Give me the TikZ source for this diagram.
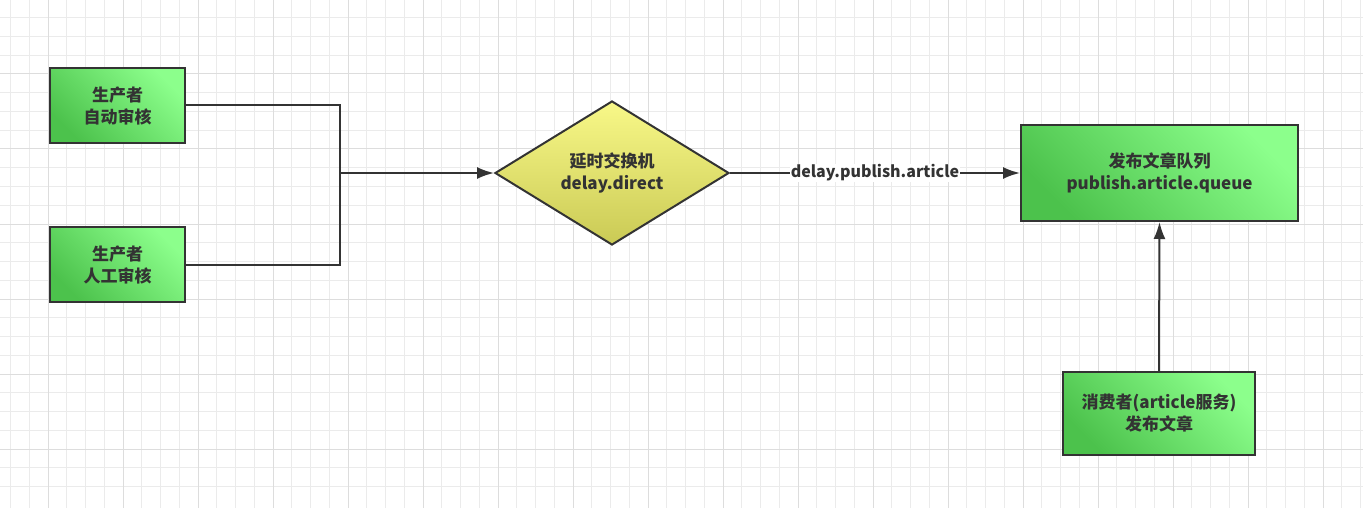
\documentclass[tikz,border=0pt]{standalone}
\usepackage{fontspec}
\setmainfont{Noto Sans CJK SC}
\usepackage{tikz}
\usetikzlibrary{arrows.meta,shapes.geometric}

\definecolor{boxlight}{HTML}{8CFF8C}
\definecolor{boxdark}{HTML}{4CC24C}
\definecolor{exlight}{HTML}{F8F888}
\definecolor{exdark}{HTML}{CACA55}
\definecolor{ink}{HTML}{333333}
\definecolor{gridminor}{HTML}{EBEBEB}
\definecolor{gridmajor}{HTML}{DDDDDD}

\begin{document}
\begin{tikzpicture}[x=1pt, y=-1pt,
  greenbox/.style={draw=ink, line width=2pt, rectangle, inner sep=0pt,
    top color=boxlight, bottom color=boxdark, shading angle=-45,
    text=ink, align=center, font=\bfseries\fontsize{17}{22}\selectfont},
  exchange/.style={draw=ink, line width=2pt, diamond, aspect=1.625, inner sep=0pt,
    top color=exlight, bottom color=exdark,
    text=ink, align=center, font=\bfseries\fontsize{17}{22}\selectfont},
  link/.style={draw=ink, line width=2pt},
  flow/.style={link, -{Latex[length=17pt,width=12pt]}}]

\useasboundingbox (0,0) rectangle (1363,508);
\fill[white] (0,0) rectangle (1363,508);

% grid
\foreach \i in {0,...,72} {
  \pgfmathsetmacro{\gx}{10.5+18.75*\i}
  \draw[gridminor, line width=1pt] (\gx,0) -- (\gx,508);
}
\foreach \j in {0,...,26} {
  \pgfmathsetmacro{\gy}{-1+18.75*\j}
  \draw[gridminor, line width=1pt] (0,\gy) -- (1363,\gy);
}
\foreach \i in {0,...,18} {
  \pgfmathsetmacro{\gx}{-27+75*\i}
  \draw[gridmajor, line width=1pt] (\gx,0) -- (\gx,508);
}
\foreach \j in {0,...,6} {
  \pgfmathsetmacro{\gy}{-1+75*\j}
  \draw[gridmajor, line width=1pt] (0,\gy) -- (1363,\gy);
}

\node[greenbox, minimum width=135pt, minimum height=75pt] at (117.5,105.5) (auto) {生产者\\自动审核};
\node[greenbox, minimum width=135pt, minimum height=75pt] at (117.5,264.5) (manual) {生产者\\人工审核};
\node[exchange, minimum width=234pt, minimum height=144pt] at (612,173) (delay) {延时交换机\\delay.direct};
\node[greenbox, minimum width=277pt, minimum height=96pt] at (1159.5,173) (queue) {发布文章队列\\publish.article.queue};
\node[greenbox, minimum width=192pt, minimum height=83pt] at (1159,413.5) (consumer) {消费者(article服务)\\发布文章};

\coordinate (join) at (340,173);

\path[link] (auto.east) -| (join);
\path[link] (manual.east) -| (join);
\path[flow] (join) -- (delay.west);
\path[flow] (delay.east) -- node[fill=white, inner sep=1pt, text=ink, font=\bfseries\fontsize{16}{21}\selectfont]{delay.publish.article} (queue.west);
\path[flow] (consumer.north) -- (queue.south);

\end{tikzpicture}
\end{document}
